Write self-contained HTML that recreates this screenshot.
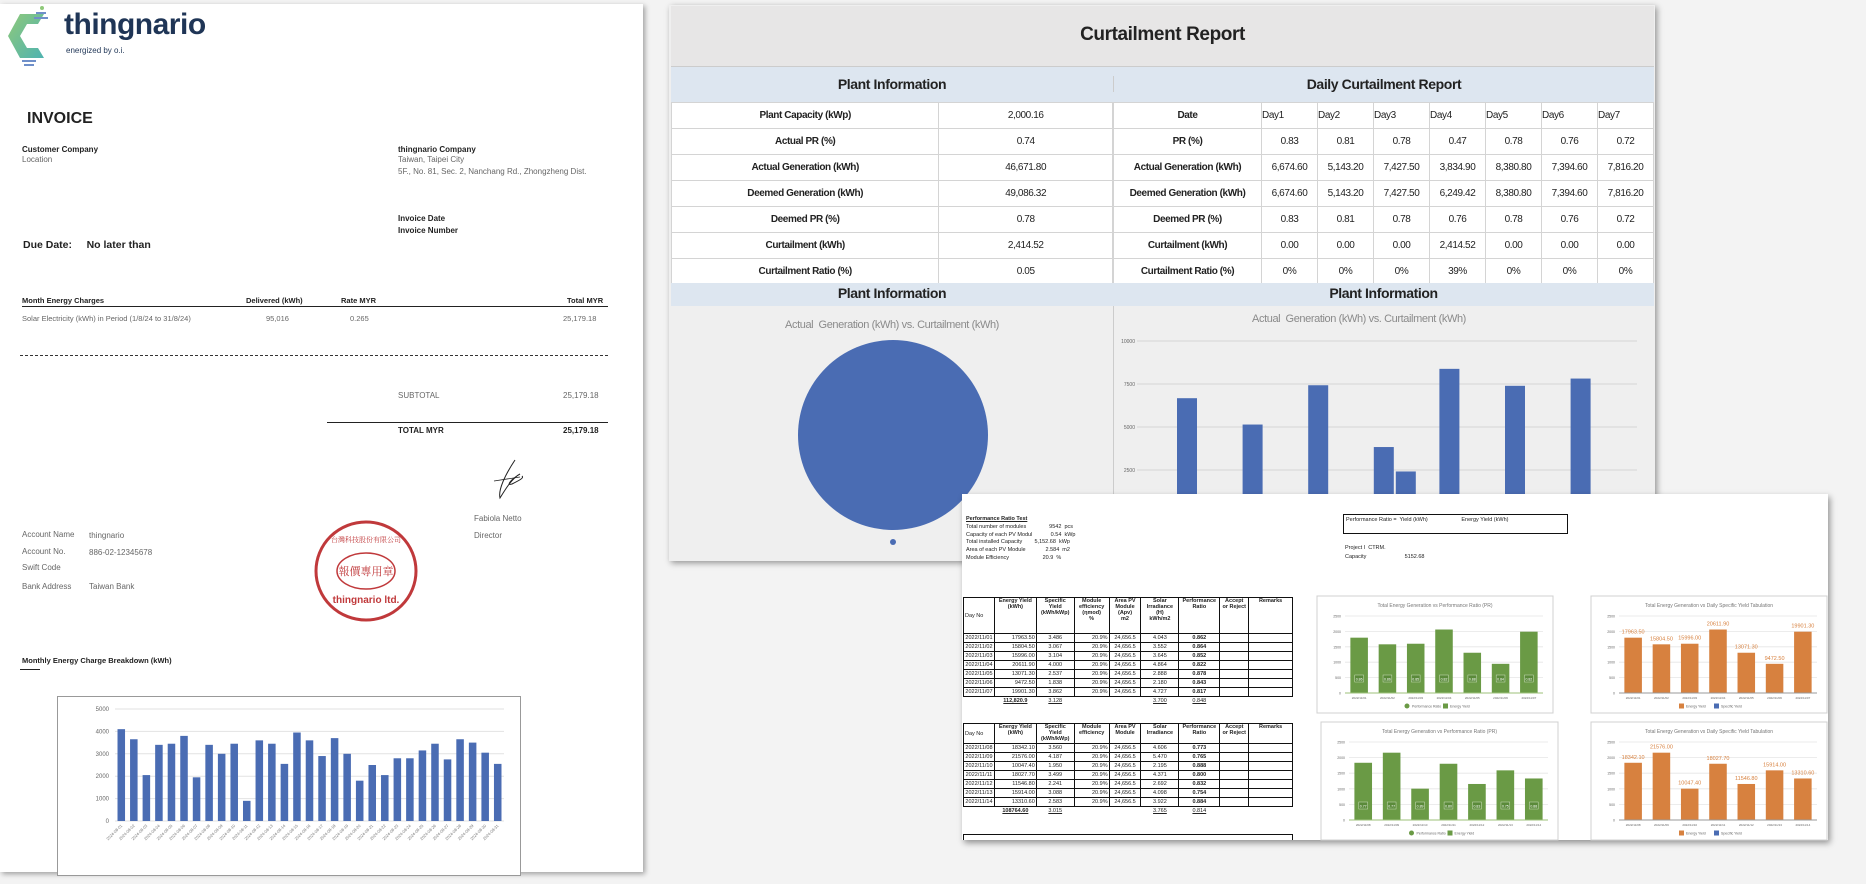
<!DOCTYPE html>
<html><head><meta charset="utf-8">
<style>
*{box-sizing:border-box;margin:0;padding:0}
body{width:1866px;height:884px;background:#f3f3f3;position:relative;overflow:hidden;font-family:"Liberation Sans",sans-serif;color:#222}
.layer{position:absolute;left:0;top:0;width:1866px;height:884px;pointer-events:none}
.abs{position:absolute;white-space:nowrap}
.nar{font-family:"Liberation Sans Narrow","Liberation Sans",sans-serif;letter-spacing:-0.4px}
.t8{font-size:8px}
.b{font-weight:bold}
.g{color:#666}
svg{position:absolute;left:0;top:0}
table.ct{position:absolute;border-collapse:collapse;font-family:"Liberation Sans Narrow","Liberation Sans",sans-serif;letter-spacing:-0.4px}
table.ct td{border:1px solid #d4d4d4;height:26px;text-align:center;font-size:10px;background:#fff}
table.ct td.l{font-weight:bold}
table.st{position:absolute;border-collapse:collapse;font-family:"Liberation Sans Narrow","Liberation Sans",sans-serif;font-size:5.5px;background:#fff}
table.st td{border:1px solid #111;text-align:center;padding:0 1px;line-height:6px}
</style></head><body>

<!-- Invoice page -->
<div class="layer" style="z-index:1">
  <div class="abs" style="left:0;top:4px;width:643px;height:868px;background:#fff;box-shadow:2px 2px 5px rgba(0,0,0,.35)"></div>
  <svg width="1866" height="884">
    <defs><linearGradient id="lg" x1="0" y1="0" x2="1" y2="1"><stop offset="0" stop-color="#8fc97a"/><stop offset="1" stop-color="#4fb3b0"/></linearGradient></defs>
    <polygon points="20,14 44,14 38,24 27,24 20,36 27,48 38,48 44,58 20,58 8,36" fill="url(#lg)"/>
    <rect x="36" y="12" width="10" height="2" fill="#6f8fc9"/><rect x="34" y="17" width="14" height="2" fill="#6f8fc9"/>
    <rect x="22" y="60" width="14" height="2" fill="#6f8fc9"/><rect x="24" y="64" width="10" height="2" fill="#6f8fc9"/>
    <circle cx="42" cy="8" r="2" fill="#8fc97a"/>
  </svg>
  <div class="abs b" style="left:64px;top:8px;font-size:30px;color:#1f3556;letter-spacing:-0.5px">thingnario</div>
  <div class="abs" style="left:66px;top:46px;font-size:8px;color:#1f3556">energized by o.i.</div>
  <div class="abs b" style="left:27px;top:110px;font-size:16px">INVOICE</div>
  <div class="abs b t8" style="left:22px;top:145px">Customer Company</div>
  <div class="abs t8 g" style="left:22px;top:155px">Location</div>
  <div class="abs b t8" style="left:398px;top:145px">thingnario Company</div>
  <div class="abs t8 g" style="left:398px;top:155px">Taiwan, Taipei City</div>
  <div class="abs t8 g" style="left:398px;top:167px">5F., No. 81, Sec. 2, Nanchang Rd., Zhongzheng Dist.</div>
  <div class="abs b t8" style="left:398px;top:214px">Invoice Date</div>
  <div class="abs b t8" style="left:398px;top:226px">Invoice Number</div>
  <div class="abs b" style="left:23px;top:239px;font-size:10.5px">Due Date:&nbsp;&nbsp;&nbsp;&nbsp;&nbsp;No later than</div>
  <div class="abs b t8" style="left:22px;top:296px;font-size:7.5px">Month Energy Charges</div>
  <div class="abs b t8" style="left:246px;top:296px;font-size:7.5px">Delivered (kWh)</div>
  <div class="abs b t8" style="left:341px;top:296px;font-size:7.5px">Rate MYR</div>
  <div class="abs b t8" style="left:567px;top:296px;font-size:7.5px">Total MYR</div>
  <div class="abs" style="left:22px;top:306px;width:586px;height:1px;background:#222"></div>
  <div class="abs t8 g" style="left:22px;top:314px;font-size:7.5px">Solar Electricity (kWh) in Period (1/8/24 to 31/8/24)</div>
  <div class="abs t8 g" style="left:266px;top:314px;font-size:7.5px">95,016</div>
  <div class="abs t8 g" style="left:350px;top:314px;font-size:7.5px">0.265</div>
  <div class="abs t8 g" style="left:563px;top:314px;font-size:7.5px">25,179.18</div>
  <div class="abs" style="left:20px;top:355px;width:588px;border-top:1px dashed #333"></div>
  <div class="abs t8 g" style="left:398px;top:391px">SUBTOTAL</div>
  <div class="abs t8 g" style="left:563px;top:391px">25,179.18</div>
  <div class="abs" style="left:327px;top:422px;width:281px;height:1px;background:#222"></div>
  <div class="abs b t8" style="left:398px;top:426px">TOTAL MYR</div>
  <div class="abs b t8" style="left:563px;top:426px">25,179.18</div>
  <svg width="1866" height="884"><path d="M515,460 C505,475 498,490 500,498 C505,490 512,478 520,474 C510,480 506,486 512,484 C520,480 524,478 522,476" stroke="#222" fill="none" stroke-width="1"/><path d="M494,481 L520,477" stroke="#222" stroke-width="0.8"/></svg>
  <div class="abs t8 g" style="left:474px;top:514px">Fabiola Netto</div>
  <div class="abs t8 g" style="left:474px;top:531px">Director</div>
  <svg width="1866" height="884">
    <ellipse cx="366" cy="571" rx="50" ry="49" fill="none" stroke="#c0393b" stroke-width="3"/>
    <ellipse cx="366" cy="571" rx="29" ry="18" fill="none" stroke="#c0393b" stroke-width="1.5"/>
    <text x="366" y="575" text-anchor="middle" font-size="11" fill="#c0393b" font-family="Noto Serif CJK SC,serif">報價專用章</text>
    <text x="366" y="603" text-anchor="middle" font-size="10" fill="#c0393b" font-weight="bold">thingnario ltd.</text>
    <text x="366" y="542" text-anchor="middle" font-size="7" fill="#c0393b" font-family="Noto Serif CJK SC,serif">台灣科技股份有限公司</text>
  </svg>
  <div class="abs t8 g" style="left:22px;top:530px">Account Name</div>
  <div class="abs t8 g" style="left:89px;top:531px">thingnario</div>
  <div class="abs t8 g" style="left:22px;top:547px">Account No.</div>
  <div class="abs t8 g" style="left:89px;top:548px">886-02-12345678</div>
  <div class="abs t8 g" style="left:22px;top:563px">Swift Code</div>
  <div class="abs t8 g" style="left:22px;top:582px">Bank Address</div>
  <div class="abs t8 g" style="left:89px;top:582px">Taiwan Bank</div>
  <div class="abs b t8" style="left:22px;top:656px;font-size:7.5px">Monthly Energy Charge Breakdown (kWh)</div>
  <div class="abs" style="left:20px;top:669px;width:20px;height:1px;background:#222"></div>
  <div class="abs" style="left:57px;top:696px;width:464px;height:180px;border:1px solid #999;background:#fff"></div>
  <svg id="invChart" width="1866" height="884"></svg>
</div>

<!-- Curtailment report -->
<div class="layer" style="z-index:2">
  <div class="abs" style="left:669px;top:5px;width:986px;height:556px;background:#efefef;box-shadow:2px 2px 6px rgba(0,0,0,.4)"></div>
  <div class="abs" style="left:671px;top:6px;width:983px;height:61px;background:#e7e6e6;border-bottom:1px solid #ccc"></div>
  <div class="abs nar b" style="left:671px;top:24px;width:983px;text-align:center;font-size:19px">Curtailment Report</div>
  <div class="abs" style="left:671px;top:67px;width:983px;height:35px;background:#dde6f0"></div>
  <div class="abs nar b" style="left:671px;top:76px;width:442px;text-align:center;font-size:14px">Plant Information</div>
  <div class="abs nar b" style="left:1113px;top:76px;width:541px;text-align:center;font-size:14px;border-left:1px solid #ccc">Daily Curtailment Report</div>
  <table class="ct" style="left:671px;top:102px;width:442px">
    <colgroup><col style="width:268px"><col style="width:174px"></colgroup>
    <tr><td class="l">Plant Capacity (kWp)</td><td>2,000.16</td></tr>
    <tr><td class="l">Actual PR (%)</td><td>0.74</td></tr>
    <tr><td class="l">Actual Generation (kWh)</td><td>46,671.80</td></tr>
    <tr><td class="l">Deemed Generation (kWh)</td><td>49,086.32</td></tr>
    <tr><td class="l">Deemed PR (%)</td><td>0.78</td></tr>
    <tr><td class="l">Curtailment (kWh)</td><td>2,414.52</td></tr>
    <tr><td class="l">Curtailment Ratio (%)</td><td>0.05</td></tr>
  </table>
  <table class="ct" style="left:1113px;top:102px;width:541px">
    <colgroup><col style="width:148px"><col span="7" style="width:56px"></colgroup>
    <tr><td class="l">Date</td><td style="text-align:left">Day1</td><td style="text-align:left">Day2</td><td style="text-align:left">Day3</td><td style="text-align:left">Day4</td><td style="text-align:left">Day5</td><td style="text-align:left">Day6</td><td style="text-align:left">Day7</td></tr>
    <tr><td class="l">PR (%)</td><td>0.83</td><td>0.81</td><td>0.78</td><td>0.47</td><td>0.78</td><td>0.76</td><td>0.72</td></tr>
    <tr><td class="l">Actual Generation (kWh)</td><td>6,674.60</td><td>5,143.20</td><td>7,427.50</td><td>3,834.90</td><td>8,380.80</td><td>7,394.60</td><td>7,816.20</td></tr>
    <tr><td class="l">Deemed Generation (kWh)</td><td>6,674.60</td><td>5,143.20</td><td>7,427.50</td><td>6,249.42</td><td>8,380.80</td><td>7,394.60</td><td>7,816.20</td></tr>
    <tr><td class="l">Deemed PR (%)</td><td>0.83</td><td>0.81</td><td>0.78</td><td>0.76</td><td>0.78</td><td>0.76</td><td>0.72</td></tr>
    <tr><td class="l">Curtailment (kWh)</td><td>0.00</td><td>0.00</td><td>0.00</td><td>2,414.52</td><td>0.00</td><td>0.00</td><td>0.00</td></tr>
    <tr><td class="l">Curtailment Ratio (%)</td><td>0%</td><td>0%</td><td>0%</td><td>39%</td><td>0%</td><td>0%</td><td>0%</td></tr>
  </table>
  <div class="abs" style="left:671px;top:283px;width:983px;height:23px;background:#dde6f0"></div>
  <div class="abs nar b" style="left:671px;top:285px;width:442px;text-align:center;font-size:14px">Plant Information</div>
  <div class="abs nar b" style="left:1113px;top:285px;width:541px;text-align:center;font-size:14px">Plant Information</div>
  <div class="abs" style="left:1113px;top:306px;width:1px;height:254px;background:#ccc"></div>
  <div class="abs nar" style="left:671px;top:319px;width:442px;text-align:center;font-size:11px;color:#8a8a8a">Actual&nbsp; Generation (kWh) vs. Curtailment (kWh)</div>
  <div class="abs nar" style="left:1114px;top:313px;width:490px;text-align:center;font-size:11px;color:#8a8a8a">Actual&nbsp; Generation (kWh) vs. Curtailment (kWh)</div>
  <svg id="curtChart" width="1866" height="884"></svg>
</div>

<!-- Performance ratio sheet -->
<div class="layer" style="z-index:3">
  <div class="abs" style="left:962px;top:494px;width:866px;height:346px;background:#fff;box-shadow:2px 3px 6px rgba(0,0,0,.4)"></div>
  <div class="abs nar" style="left:966px;top:516px;font-size:5.5px;line-height:7.8px;letter-spacing:0">
    <div><b><u>Performance Ratio Test</u></b></div>
    <div>Total number of modules&nbsp;&nbsp;&nbsp;&nbsp;&nbsp;&nbsp;&nbsp;&nbsp;&nbsp;&nbsp;&nbsp;&nbsp;&nbsp;&nbsp;&nbsp;9542&nbsp; pcs</div>
    <div>Capacity of each PV Modul&nbsp;&nbsp;&nbsp;&nbsp;&nbsp;&nbsp;&nbsp;&nbsp;&nbsp;&nbsp;&nbsp;&nbsp;0.54&nbsp; kWp</div>
    <div>Total installed Capacity&nbsp;&nbsp;&nbsp;&nbsp;&nbsp;&nbsp;&nbsp;&nbsp;5,152.68&nbsp; kWp</div>
    <div>Area of each PV Module&nbsp;&nbsp;&nbsp;&nbsp;&nbsp;&nbsp;&nbsp;&nbsp;&nbsp;&nbsp;&nbsp;&nbsp;&nbsp;2.584&nbsp; m2</div>
    <div>Module Efficiency&nbsp;&nbsp;&nbsp;&nbsp;&nbsp;&nbsp;&nbsp;&nbsp;&nbsp;&nbsp;&nbsp;&nbsp;&nbsp;&nbsp;&nbsp;&nbsp;&nbsp;&nbsp;&nbsp;&nbsp;&nbsp;&nbsp;20.9&nbsp; %</div>
  </div>
  <div class="abs nar" style="left:1343px;top:514px;width:225px;height:20px;border:1.5px solid #111;font-size:5.5px;padding:2px;letter-spacing:0">Performance Ratio =&nbsp; Yield (kWh)&nbsp;&nbsp;&nbsp;&nbsp;&nbsp;&nbsp;&nbsp;&nbsp;&nbsp;&nbsp;&nbsp;&nbsp;&nbsp;&nbsp;&nbsp;&nbsp;&nbsp;&nbsp;&nbsp;&nbsp;&nbsp;&nbsp;Energy Yield (kWh)</div>
  <div class="abs nar" style="left:1345px;top:544px;font-size:5.5px;line-height:9px;letter-spacing:0"><div>Project I&nbsp; CTRM.</div><div>Capacity&nbsp;&nbsp;&nbsp;&nbsp;&nbsp;&nbsp;&nbsp;&nbsp;&nbsp;&nbsp;&nbsp;&nbsp;&nbsp;&nbsp;&nbsp;&nbsp;&nbsp;&nbsp;&nbsp;&nbsp;&nbsp;&nbsp;&nbsp;&nbsp;&nbsp;5152.68</div></div>
  <div id="tables"></div>
  <svg id="sheetCharts" width="1866" height="884"></svg>
</div>

<script>
// ---- Invoice monthly chart data ----
const monthlyDays = ['2024-08-01','2024-08-02','2024-08-03','2024-08-04','2024-08-05','2024-08-06','2024-08-07','2024-08-08','2024-08-09','2024-08-10','2024-08-11','2024-08-12','2024-08-13','2024-08-14','2024-08-15','2024-08-16','2024-08-17','2024-08-18','2024-08-19','2024-08-20','2024-08-21','2024-08-22','2024-08-23','2024-08-24','2024-08-25','2024-08-26','2024-08-27','2024-08-28','2024-08-29','2024-08-30','2024-08-31'];
const monthlyKwh = [4100,3650,2050,3400,3450,3800,1950,3400,3000,3450,900,3600,3450,2550,3950,3600,2900,3700,3000,1800,2500,2050,2800,2800,3150,3450,2750,3650,3500,3050,2550];
const monthlyTicks = [0,1000,2000,3000,4000,5000];

// ---- Curtailment charts data ----
const curtDays = ['Day1','Day2','Day3','Day4','Day5','Day6','Day7'];
const curtActual = [6674.6,5143.2,7427.5,3834.9,8380.8,7394.6,7816.2];
const curtCurtail = [0,0,0,2414.52,0,0,0];
const curtTicks = [2500,5000,7500,10000];
const pieValues = [46671.8, 0];

// ---- PR sheet data ----
const week1Dates = ['2022/11/01','2022/11/02','2022/11/03','2022/11/04','2022/11/05','2022/11/06','2022/11/07'];
const week1Yield = [17963.5,15804.5,15996.0,20611.9,13071.3,9472.5,19901.3];
const week1Specific = ['3.486','3.067','3.104','4.000','2.537','1.838','3.862'];
const week1Irr = ['4.043','3.552','3.645','4.864','2.888','2.180','4.727'];
const week1PR = [0.862,0.864,0.852,0.822,0.878,0.843,0.817];
const week2Dates = ['2022/11/08','2022/11/09','2022/11/10','2022/11/11','2022/11/12','2022/11/13','2022/11/14'];
const week2Yield = [18342.1,21576.0,10047.4,18027.7,11546.8,15914.0,13310.6];
const week2Specific = ['3.560','4.187','1.950','3.499','2.241','3.088','2.583'];
const week2Irr = ['4.606','5.470','2.195','4.371','2.692','4.098','3.922'];
const week2PR = [0.773,0.765,0.888,0.800,0.832,0.754,0.884];
const sheetTicks = [0,500,1000,1500,2000,2500];

const NS='http://www.w3.org/2000/svg';
function mk(parent,tag,attrs,name){const e=document.createElementNS(NS,tag);for(const k in attrs)e.setAttribute(k,attrs[k]);


parent.appendChild(e);return e;}
function txt(parent,x,y,s,size,fill,anchor,name,extra){const t=mk(parent,'text',Object.assign({x:x,y:y,'font-size':size,fill:fill,'text-anchor':anchor||'start','font-family':'Liberation Sans Narrow, Liberation Sans, sans-serif'},extra||{}),name);t.textContent=s;return t;}

// Invoice chart
(function(){
  const svg=document.getElementById('invChart');
  const x0=115,x1=504,yZero=821,yTop=709,maxV=5000;
  const y=v=>yZero-(v/maxV)*(yZero-yTop);
  const bw=(x1-x0)/monthlyKwh.length;
  monthlyTicks.forEach(t=>{mk(svg,'line',{x1:x0,x2:x1,y1:y(t),y2:y(t),stroke:'#e2e2e2','stroke-width':1},'gridline');
    txt(svg,x0-6,y(t)+2,String(t),6,'#666','end','y-tick-label');});
  monthlyKwh.forEach((v,i)=>{mk(svg,'rect',{x:x0+i*bw+bw*0.2,y:y(v),width:bw*0.6,height:yZero-y(v),fill:'#4a6cb3'},'bar-'+monthlyDays[i]);
    txt(svg,0,0,monthlyDays[i],4,'#777','end','x-tick-label',{transform:`translate(${x0+i*bw+bw*0.6},${yZero+5}) rotate(-45)`});});
})();

// Curtailment charts
(function(){
  const svg=document.getElementById('curtChart');
  const cx=893,cy=435,r=95,total=pieValues.reduce((a,b)=>a+b,0);
  const colors=['#4a6cb3','#e07b39'];
  let a0=-Math.PI/2;
  pieValues.forEach((v,i)=>{const frac=v/total;if(frac<=0)return;
    if(frac>=0.9999){mk(svg,'circle',{cx:cx,cy:cy,r:r,fill:colors[i]},'pie-slice-'+i);}
    else{const a1=a0+frac*2*Math.PI;const large=frac>0.5?1:0;
      mk(svg,'path',{d:`M${cx},${cy} L${cx+r*Math.cos(a0)},${cy+r*Math.sin(a0)} A${r},${r} 0 ${large} 1 ${cx+r*Math.cos(a1)},${cy+r*Math.sin(a1)} Z`,fill:colors[i]},'pie-slice-'+i);a0=a1;}
  });
  mk(svg,'circle',{cx:cx,cy:542,r:3,fill:'#4a6cb3'},'pie-legend-marker');
  const g=mk(svg,'g',{'clip-path':'url(#clipCurt)'},'curtailment-bar-group');
  const cp=mk(svg,'clipPath',{id:'clipCurt'},'clip');mk(cp,'rect',{x:1114,y:306,width:540,height:253},'clip-rect');
  const xA=1137,xB=1637,yZero=513,maxV=10000,yTop=341;
  const y=v=>yZero-(v/maxV)*(yZero-yTop);
  curtTicks.forEach(t=>{mk(g,'line',{x1:xA,x2:xB,y1:y(t),y2:y(t),stroke:'#d6d6d6','stroke-width':1},'gridline');
    txt(g,xA-2,y(t)+2,String(t),5,'#666','end','y-tick-label');});
  const step=65.6,c0=1198,bw=20;
  curtDays.forEach((d,i)=>{const c=c0+i*step;
    mk(g,'rect',{x:c-bw-1,y:y(curtActual[i]),width:bw,height:yZero-y(curtActual[i]),fill:'#4a6cb3'},'bar-actual-'+d);
    if(curtCurtail[i]>0)mk(g,'rect',{x:c+1,y:y(curtCurtail[i]),width:bw,height:yZero-y(curtCurtail[i]),fill:'#4a6cb3'},'bar-curtail-'+d);});
})();

// Sheet tables
(function(){
  const host=document.getElementById('tables');
  function build(top,dates,yields,spec,irr,pr,full,totalY,totalS,totalI,totalP,name){
    const t=document.createElement('table');t.className='st';
    
    
    t.style.left='963px';t.style.top=top+'px';t.style.width='330px';
    const w=[31,42,38,35,32,38,41,29,44];
    let h='<colgroup>'+w.map(x=>`<col style="width:${x}px">`).join('')+'</colgroup>';
    h+=`<tr style="height:${full?36:20}px"><td style="text-align:left">Day No</td><td style="vertical-align:top"><b>Energy Yield<br>(kWh)</b></td><td style="vertical-align:top"><b>Specific Yield<br>(kWh/kWp)</b></td><td style="vertical-align:top"><b>Module<br>efficiency${full?'<br>(ηmod)<br>%':''}</b></td><td style="vertical-align:top"><b>Area PV<br>Module${full?'<br>(Apv)<br>m2':''}</b></td><td style="vertical-align:top"><b>Solar<br>Irradiance${full?'<br>(H)<br>kWh/m2':''}</b></td><td style="vertical-align:top"><b>Performance<br>Ratio</b></td><td style="vertical-align:top"><b>Accept<br>or Reject</b></td><td style="vertical-align:top"><b>Remarks</b></td></tr>`;
    dates.forEach((d,i)=>{h+=`<tr style="height:9px"><td>${d}</td><td style="text-align:right">${yields[i].toFixed(2)}</td><td>${spec[i]}</td><td style="text-align:right">20.9%</td><td>24,656.5</td><td>${irr[i]}</td><td><b>${pr[i].toFixed(3)}</b></td><td></td><td></td></tr>`;});
    h+=`<tr style="height:9px"><td style="border:none"></td><td style="border:none"><u><b>${totalY}</b></u></td><td style="border:none"><u>${totalS}</u></td><td style="border:none"></td><td style="border:none"></td><td style="border:none"><u>${totalI}</u></td><td style="border:none"><u>${totalP}</u></td><td style="border:none"></td><td style="border:none"></td></tr>`;
    t.innerHTML=h;host.appendChild(t);
  }
  build(597,week1Dates,week1Yield,week1Specific,week1Irr,week1PR,true,'112,820.9','3.128','3.700','0.848','pr-table-week1');
  build(723,week2Dates,week2Yield,week2Specific,week2Irr,week2PR,false,'108764.60','3.015','3.765','0.814','pr-table-week2');
  const e=document.createElement('div');e.style.cssText='position:absolute;left:963px;top:834px;width:330px;height:6px;border-top:1px solid #111;border-left:1px solid #111;border-right:1px solid #111';
  
  
  host.appendChild(e);
})();

// Sheet charts
(function(){
  const svg=document.getElementById('sheetCharts');
  function chart(box,dates,yields,pr,kind,name){
    const [bx,by,bwid,bh]=box;
    const g=mk(svg,'g',{},name);
    mk(g,'rect',{x:bx,y:by,width:bwid,height:bh,fill:'#fff',stroke:'#d0d0d0','stroke-width':1},'chart-frame');
    txt(g,bx+bwid/2,by+11,kind==='green'?'Total Energy Generation vs Performance Ratio (PR)':'Total Energy Generation vs Daily Specific Yield Tabulation',5,'#777','middle','chart-title');
    const px0=bx+28,px1=bx+bwid-10,yTop=by+20,yZero=by+bh-20,maxV=2500;
    const y=v=>yZero-(v/maxV)*(yZero-yTop);
    sheetTicks.forEach(t=>{mk(g,'line',{x1:px0,x2:px1,y1:y(t),y2:y(t),stroke:'#e5e5e5','stroke-width':0.8},'gridline');
      txt(g,px0-4,y(t)+1.5,String(t),3.5,'#666','end','y-tick-label');});
    const step=(px1-px0)/dates.length,bw=step*0.62;
    const col=kind==='green'?'#6a9a45':'#d7813f';
    dates.forEach((d,i)=>{const v=yields[i]/10,x=px0+i*step+(step-bw)/2;
      mk(g,'rect',{x:x,y:y(v),width:bw,height:yZero-y(v),fill:col},'bar-'+d);
      if(kind==='green'){mk(g,'rect',{x:x+bw*0.25,y:yZero-18,width:bw*0.5,height:7,fill:'#5a8a3a',stroke:'#cfe0c0','stroke-width':0.5},'pr-label-box');
        txt(g,x+bw/2,yZero-12.5,pr[i].toFixed(2),3.5,'#fff','middle','pr-label');}
      else txt(g,x+bw/2,y(v)-4,yields[i].toFixed(2),5.5,'#d7813f','middle','value-label');
      txt(g,x+bw/2,yZero+6,d,3,'#666','middle','x-tick-label');});
    mk(g,'line',{x1:px0,x2:px1,y1:yZero,y2:yZero,stroke:kind==='green'?'#9cc27a':'#999','stroke-width':1},'x-axis');
    const ly=by+bh-7;
    if(kind==='green'){mk(g,'circle',{cx:bx+bwid/2-28,cy:ly,r:2.5,fill:'#6a9a45'},'legend-marker');txt(g,bx+bwid/2-23,ly+1.5,'Performance Ratio',3.5,'#666','start','legend-entry');
      mk(g,'rect',{x:bx+bwid/2+8,y:ly-2.5,width:5,height:5,fill:'#6a9a45'},'legend-marker');txt(g,bx+bwid/2+15,ly+1.5,'Energy Yield',3.5,'#666','start','legend-entry');}
    else{mk(g,'rect',{x:bx+bwid/2-30,y:ly-2.5,width:5,height:5,fill:'#d7813f'},'legend-marker');txt(g,bx+bwid/2-23,ly+1.5,'Energy Yield',3.5,'#666','start','legend-entry');
      mk(g,'rect',{x:bx+bwid/2+5,y:ly-2.5,width:5,height:5,fill:'#4a6cb3'},'legend-marker');txt(g,bx+bwid/2+12,ly+1.5,'Specific Yield',3.5,'#666','start','legend-entry');}
  }
  chart([1317,596,236,117],week1Dates,week1Yield,week1PR,'green','pr-chart-week1');
  chart([1591,596,236,117],week1Dates,week1Yield,week1PR,'orange','yield-chart-week1');
  chart([1321,722,237,118],week2Dates,week2Yield,week2PR,'green','pr-chart-week2');
  chart([1591,722,236,118],week2Dates,week2Yield,week2PR,'orange','yield-chart-week2');
})();
</script>
</body></html>
